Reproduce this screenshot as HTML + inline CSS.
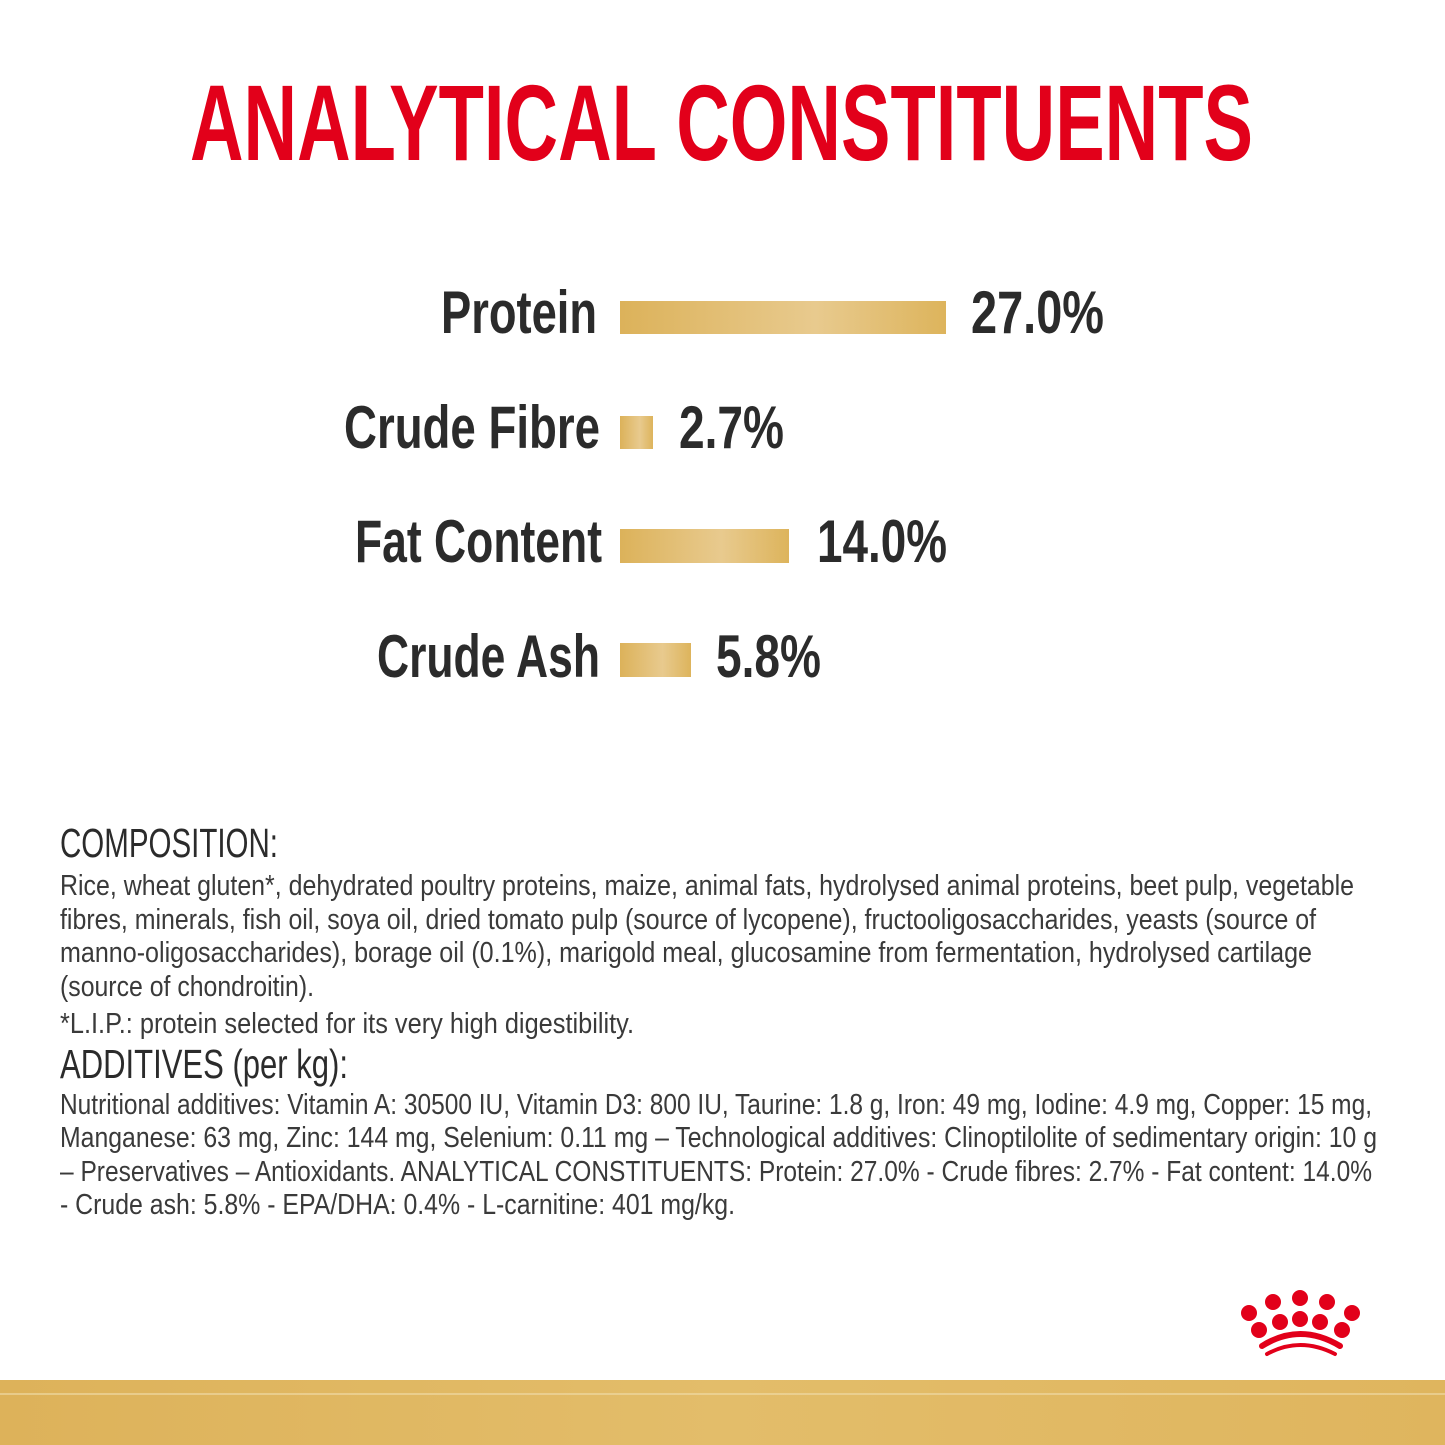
<!DOCTYPE html>
<html><head><meta charset="utf-8"><style>
html,body{margin:0;padding:0;background:#fff;width:1445px;height:1445px;overflow:hidden}
svg{display:block}
text{font-family:"Liberation Sans Narrow","Liberation Sans",sans-serif}
.lab{font-weight:bold;font-size:60px;fill:#2b2b2b}
.h{font-size:41px;fill:#2b2b2b}
.b{font-size:29px;fill:#3a3a3a}
</style></head><body>
<svg width="1445" height="1445" viewBox="0 0 1445 1445">
<defs>
<linearGradient id="g" x1="0" x2="1" y1="0" y2="0">
<stop offset="0" stop-color="#dcb25a"/><stop offset="0.6" stop-color="#e8ca8e"/><stop offset="1" stop-color="#ddb45c"/>
</linearGradient>
<linearGradient id="g2" x1="0" x2="1"><stop offset="0" stop-color="#ddb25a"/><stop offset="0.5" stop-color="#e3bd6a"/><stop offset="1" stop-color="#dfb55e"/></linearGradient>
</defs>
<text x="190" y="160" textLength="1063" lengthAdjust="spacingAndGlyphs" font-size="108" font-weight="bold" fill="#e2001a">ANALYTICAL CONSTITUENTS</text>

<text class="lab" x="441" y="333" textLength="156" lengthAdjust="spacingAndGlyphs">Protein</text>
<rect x="620" y="301" width="326" height="33" fill="url(#g)"/>
<text class="lab" x="971" y="333" textLength="133" lengthAdjust="spacingAndGlyphs">27.0%</text>

<text class="lab" x="344" y="448" textLength="256" lengthAdjust="spacingAndGlyphs">Crude Fibre</text>
<rect x="620" y="416" width="33" height="33" fill="url(#g)"/>
<text class="lab" x="679" y="448" textLength="105" lengthAdjust="spacingAndGlyphs">2.7%</text>

<text class="lab" x="355" y="562" textLength="247" lengthAdjust="spacingAndGlyphs">Fat Content</text>
<rect x="620" y="529" width="169" height="34" fill="url(#g)"/>
<text class="lab" x="817" y="562" textLength="130" lengthAdjust="spacingAndGlyphs">14.0%</text>

<text class="lab" x="377" y="677" textLength="223" lengthAdjust="spacingAndGlyphs">Crude Ash</text>
<rect x="620" y="643" width="71" height="34" fill="url(#g)"/>
<text class="lab" x="716" y="677" textLength="105" lengthAdjust="spacingAndGlyphs">5.8%</text>

<text class="h" x="60" y="857" textLength="218" lengthAdjust="spacingAndGlyphs">COMPOSITION:</text>
<text class="b" x="60" y="895" textLength="1294" lengthAdjust="spacingAndGlyphs">Rice, wheat gluten*, dehydrated poultry proteins, maize, animal fats, hydrolysed animal proteins, beet pulp, vegetable</text>
<text class="b" x="60" y="929" textLength="1256" lengthAdjust="spacingAndGlyphs">fibres, minerals, fish oil, soya oil, dried tomato pulp (source of lycopene), fructooligosaccharides, yeasts (source of</text>
<text class="b" x="60" y="962" textLength="1252" lengthAdjust="spacingAndGlyphs">manno-oligosaccharides), borage oil (0.1%), marigold meal, glucosamine from fermentation, hydrolysed cartilage</text>
<text class="b" x="60" y="996" textLength="254" lengthAdjust="spacingAndGlyphs">(source of chondroitin).</text>
<text class="b" x="60" y="1033" textLength="574" lengthAdjust="spacingAndGlyphs">*L.I.P.: protein selected for its very high digestibility.</text>
<text class="h" x="60" y="1078" textLength="288" lengthAdjust="spacingAndGlyphs">ADDITIVES (per kg):</text>
<text class="b" x="60" y="1114" textLength="1312" lengthAdjust="spacingAndGlyphs">Nutritional additives: Vitamin A: 30500 IU, Vitamin D3: 800 IU, Taurine: 1.8 g, Iron: 49 mg, Iodine: 4.9 mg, Copper: 15 mg,</text>
<text class="b" x="60" y="1147" textLength="1317" lengthAdjust="spacingAndGlyphs">Manganese: 63 mg, Zinc: 144 mg, Selenium: 0.11 mg – Technological additives: Clinoptilolite of sedimentary origin: 10 g</text>
<text class="b" x="60" y="1181" textLength="1312" lengthAdjust="spacingAndGlyphs">– Preservatives – Antioxidants. ANALYTICAL CONSTITUENTS: Protein: 27.0% - Crude fibres:  2.7% - Fat content: 14.0%</text>
<text class="b" x="60" y="1214" textLength="675" lengthAdjust="spacingAndGlyphs">- Crude ash: 5.8% - EPA/DHA: 0.4% - L-carnitine: 401 mg/kg.</text>

<g fill="#e2001a">
<circle cx="1249" cy="1313" r="8"/><circle cx="1273" cy="1302" r="8"/><circle cx="1300" cy="1298" r="8"/><circle cx="1327" cy="1302" r="8"/><circle cx="1352" cy="1313" r="8"/>
<circle cx="1259" cy="1330" r="8"/><circle cx="1280" cy="1322" r="8"/><circle cx="1300" cy="1319" r="8"/><circle cx="1320" cy="1322" r="8"/><circle cx="1342" cy="1330" r="8"/>
</g>
<path d="M1262 1346 Q1300 1322 1340 1346" stroke="#e2001a" stroke-width="6" fill="none" stroke-linecap="round"/>
<path d="M1267 1354 Q1300 1336 1335 1354" stroke="#e2001a" stroke-width="4" fill="none" stroke-linecap="round"/>
<rect x="0" y="1380" width="1445" height="65" fill="url(#g2)"/>
<rect x="0" y="1393" width="1445" height="2" fill="#f0dcaa" opacity="0.6"/>
</svg>
</body></html>
